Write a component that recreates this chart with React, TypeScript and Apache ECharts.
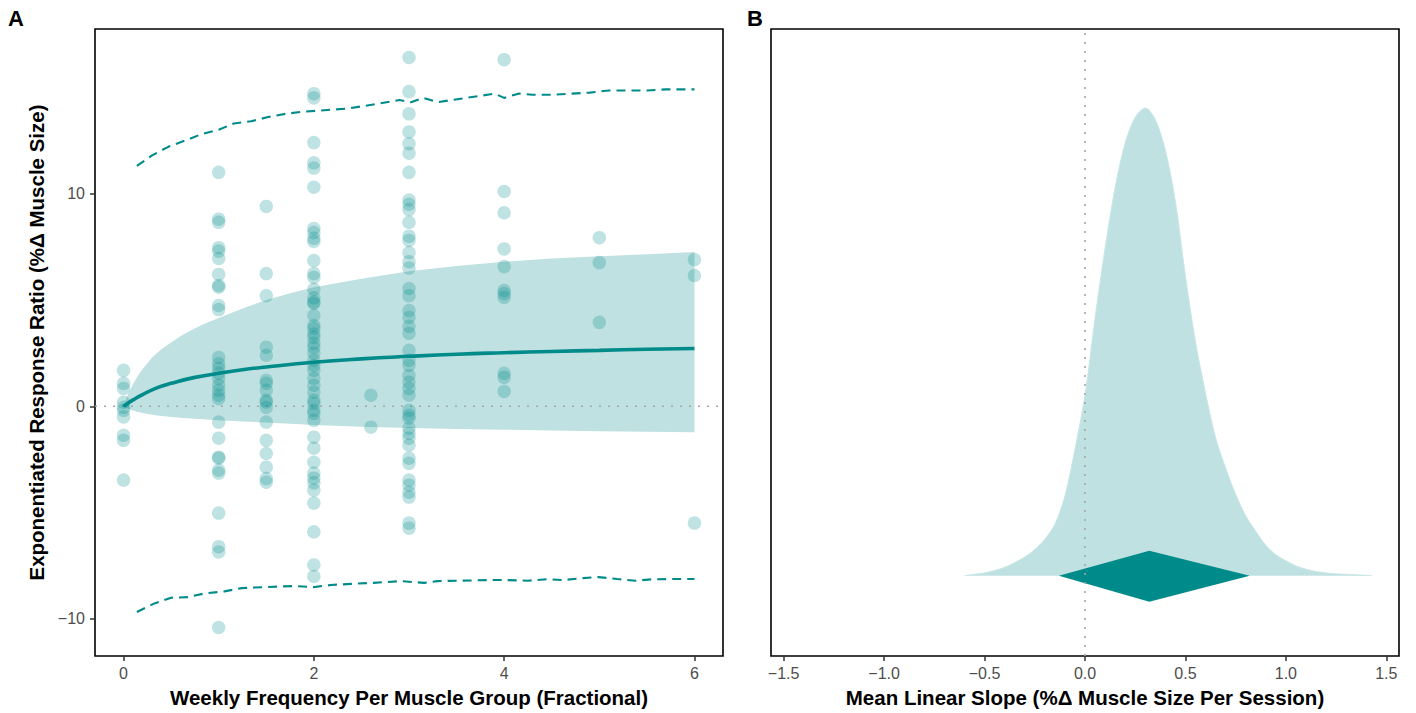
import React, { useEffect, useRef } from 'react';
import * as echarts from 'echarts';

const TEAL = '#008b8b';
const RIBBON = '#c0e1e1';
const FONT = '"Liberation Sans", Arial, Helvetica, sans-serif';

// ---------- Panel A data ----------
const col0 = [1.69, 1.08, 0.84, 0.19, -0.05, -0.19, -0.5, -1.36, -1.6, -3.47];
const col1 = [11.0, 8.8, 8.65, 7.46, 7.3, 6.95, 6.2, 5.68, 5.6, 4.74, 4.55, 2.3, 2.0, 1.78, 1.55, 1.31, 0.99, 0.75, 0.52, 0.36, -0.74, -1.5, -2.39, -2.44, -3.0, -3.14, -5.02, -6.6, -6.85, -10.4];
const col15 = [9.4, 6.24, 5.2, 2.78, 2.4, 1.22, 1.08, 0.75, 0.28, 0.2, -0.05, -0.74, -1.6, -2.22, -2.86, -3.4, -3.57];
const col2 = [14.7, 14.5, 12.4, 11.45, 11.2, 10.3, 8.36, 8.17, 7.9, 7.75, 6.85, 6.24, 6.06, 5.5, 5.1, 4.9, 4.84, 4.27, 3.8, 3.66, 3.4, 3.24, 2.96, 2.77, 2.5, 2.16, 1.92, 1.69, 1.31, 0.99, 0.66, 0.28, 0.14, -0.19, -0.33, -0.66, -1.45, -1.97, -2.63, -3.14, -3.38, -3.6, -3.94, -4.55, -5.9, -7.46, -8.0];
const col26 = [0.52, -0.98];
const col3 = [16.4, 14.8, 13.75, 12.9, 12.35, 11.9, 11.0, 9.7, 9.5, 9.25, 8.65, 8.0, 7.8, 7.23, 6.8, 6.5, 5.54, 5.2, 4.5, 4.18, 3.76, 3.43, 2.63, 2.16, 1.92, 1.45, 1.13, 0.84, 0.52, -0.19, -0.42, -0.56, -1.03, -1.27, -1.5, -1.83, -2.44, -2.68, -3.47, -3.71, -4.04, -4.27, -5.49, -5.73];
const col4 = [16.3, 10.1, 9.1, 7.4, 6.57, 5.45, 5.3, 5.12, 1.55, 1.36, 0.7];
const col5 = [7.93, 6.76, 3.95];
const col6 = [6.9, 6.15, -5.49];
const columns: [number, number[]][] = [
  [0, col0], [1, col1], [1.5, col15], [2, col2], [2.6, col26], [3, col3], [4, col4], [5, col5], [6, col6],
];

const fitX = [0, 0.05, 0.1, 0.2, 0.35, 0.5, 0.75, 1, 1.25, 1.5, 2, 2.5, 3, 3.5, 4, 4.5, 5, 5.5, 6];
const fitY = [0, 0.16, 0.3, 0.55, 0.87, 1.08, 1.36, 1.55, 1.72, 1.85, 2.07, 2.23, 2.35, 2.45, 2.52, 2.58, 2.63, 2.68, 2.72];

const ribbonX = [0, 0.025, 0.05, 0.1, 0.15, 0.2, 0.3, 0.4, 0.5, 0.6, 0.7, 0.8, 0.9, 1.0, 1.25, 1.5, 1.75, 2.0, 2.5, 3.0, 3.5, 4.0, 4.5, 5.0, 5.5, 6.0];
const ribbonUpper = [0, 0.32, 0.6, 1.05, 1.42, 1.75, 2.3, 2.7, 3.0, 3.3, 3.55, 3.78, 3.97, 4.15, 4.6, 5.0, 5.32, 5.6, 6.0, 6.35, 6.6, 6.8, 6.95, 7.05, 7.15, 7.25];
const ribbonLower = [0, -0.06, -0.12, -0.2, -0.27, -0.32, -0.4, -0.45, -0.5, -0.54, -0.57, -0.6, -0.63, -0.65, -0.71, -0.76, -0.82, -0.88, -0.96, -1.02, -1.07, -1.1, -1.14, -1.17, -1.2, -1.22];

const piUpX = [0.14, 0.3, 0.47, 0.65, 0.82, 1.0, 1.16, 1.34, 1.52, 1.7, 1.88, 2.05, 2.2, 2.35, 2.5, 2.7, 2.9, 3.02, 3.15, 3.3, 3.45, 3.6, 3.75, 3.9, 4.0, 4.15, 4.3, 4.5, 4.7, 4.9, 5.1, 5.3, 5.5, 5.7, 5.85, 6.0];
const piUpY = [11.3, 11.8, 12.2, 12.5, 12.8, 13.0, 13.3, 13.4, 13.6, 13.75, 13.85, 13.9, 13.95, 14.0, 14.1, 14.25, 14.4, 14.3, 14.5, 14.3, 14.4, 14.5, 14.6, 14.7, 14.5, 14.7, 14.65, 14.65, 14.7, 14.75, 14.85, 14.85, 14.85, 14.9, 14.9, 14.9];
const piLoX = [0.14, 0.31, 0.5, 0.68, 0.85, 1.06, 1.24, 1.48, 1.79, 2.0, 2.18, 2.39, 2.63, 2.91, 3.16, 3.3, 3.51, 3.86, 4.03, 4.25, 4.45, 4.62, 4.83, 4.99, 5.19, 5.38, 5.57, 5.78, 6.0];
const piLoY = [-9.67, -9.3, -9.0, -8.97, -8.8, -8.7, -8.55, -8.5, -8.45, -8.5, -8.4, -8.35, -8.3, -8.22, -8.3, -8.22, -8.2, -8.17, -8.17, -8.2, -8.13, -8.17, -8.08, -8.03, -8.12, -8.2, -8.13, -8.12, -8.12];

const xTicksA = [0, 2, 4, 6];
const yTicksA = [-10, 0, 10];

// ---------- Panel B data ----------
const densX = [-0.6, -0.55, -0.5, -0.45, -0.4, -0.35, -0.3, -0.25, -0.2, -0.15, -0.1, -0.05, 0, 0.05, 0.1, 0.15, 0.2, 0.25, 0.3, 0.35, 0.4, 0.45, 0.5, 0.55, 0.6, 0.65, 0.7, 0.75, 0.8, 0.85, 0.9, 0.95, 1.0, 1.05, 1.1, 1.15, 1.2, 1.25, 1.3, 1.35, 1.43];
const densY = [0, 0.003, 0.006, 0.011, 0.018, 0.028, 0.04, 0.056, 0.078, 0.11, 0.17, 0.27, 0.386, 0.55, 0.7, 0.83, 0.925, 0.98, 1.0, 0.975, 0.91, 0.8, 0.64, 0.5, 0.39, 0.295, 0.23, 0.174, 0.128, 0.095, 0.065, 0.045, 0.032, 0.021, 0.014, 0.009, 0.006, 0.004, 0.003, 0.002, 0];
const slopeEstimate = 0.32;
const slopeLower = -0.13;
const slopeUpper = 0.82;
const xTicksB = [-1.5, -1.0, -0.5, 0.0, 0.5, 1.0, 1.5];

const minus = (s: string) => s.replace('-', '\u2212');

function buildOption() {
  const points: number[][] = [];
  columns.forEach(([x, ys]) => ys.forEach((y) => points.push([x, y])));

  const axisTickStyle = { show: true, length: 5, inside: false, lineStyle: { color: '#333', width: 1.5 } };
  const labelStyle = { color: '#4d4d4d', fontSize: 16, fontFamily: FONT };
  const nameStyle = { color: '#000', fontSize: 20.5, fontWeight: 'bold' as const, fontFamily: FONT };
  const hiddenLine = { show: false, onZero: false };

  return {
    animation: false,
    backgroundColor: '#fff',
    textStyle: { fontFamily: FONT },
    graphic: [
      { type: 'text', x: 16, y: 18, style: { text: 'A', fontSize: 22, fontWeight: 'bold', fontFamily: FONT, fill: '#000', align: 'center', verticalAlign: 'middle' } },
      { type: 'text', x: 755, y: 18, style: { text: 'B', fontSize: 22, fontWeight: 'bold', fontFamily: FONT, fill: '#000', align: 'center', verticalAlign: 'middle' } },
    ],
    grid: [
      { left: 95, top: 29, width: 628, height: 627, show: true, borderColor: '#000', borderWidth: 1.6, backgroundColor: 'transparent' },
      { left: 771, top: 29, width: 628, height: 627, show: true, borderColor: '#000', borderWidth: 1.6, backgroundColor: 'transparent' },
    ],
    xAxis: [
      {
        type: 'value', gridIndex: 0, min: -0.3, max: 6.3,
        axisLine: hiddenLine, splitLine: { show: false },
        axisTick: { ...axisTickStyle, customValues: xTicksA },
        axisLabel: { ...labelStyle, margin: 9, customValues: xTicksA, formatter: (v: number) => minus(String(v)) },
        name: 'Weekly Frequency Per Muscle Group (Fractional)', nameLocation: 'middle', nameGap: 31, nameTextStyle: nameStyle,
      },
      {
        type: 'value', gridIndex: 1, min: -1.563, max: 1.563,
        axisLine: hiddenLine, splitLine: { show: false },
        axisTick: { ...axisTickStyle, customValues: xTicksB },
        axisLabel: { ...labelStyle, margin: 9, customValues: xTicksB, formatter: (v: number) => minus(v.toFixed(1)) },
        name: 'Mean Linear Slope (%\u0394 Muscle Size Per Session)', nameLocation: 'middle', nameGap: 31, nameTextStyle: nameStyle,
      },
    ],
    yAxis: [
      {
        type: 'value', gridIndex: 0, min: -11.74, max: 17.74,
        axisLine: hiddenLine, splitLine: { show: false },
        axisTick: { ...axisTickStyle, customValues: yTicksA },
        axisLabel: { ...labelStyle, margin: 10, customValues: yTicksA, formatter: (v: number) => minus(String(v)) },
        name: 'Exponentiated Response Ratio (%\u0394 Muscle Size)', nameLocation: 'middle', nameGap: 48, nameTextStyle: nameStyle,
      },
      {
        type: 'value', gridIndex: 1, min: -0.1716, max: 1.1688,
        axisLine: hiddenLine, splitLine: { show: false }, axisTick: { show: false }, axisLabel: { show: false },
      },
    ],
    series: [
      {
        type: 'custom', xAxisIndex: 0, yAxisIndex: 0, silent: true, z: 1,
        data: ribbonX.map((x, i) => [x, ribbonLower[i], ribbonUpper[i]]),
        encode: { x: 0, y: [1, 2] },
        renderItem: (params: any, api: any) => {
          if (params.dataIndex !== 0) return null;
          const up = ribbonX.map((x, i) => api.coord([x, ribbonUpper[i]]));
          const lo = ribbonX.map((x, i) => api.coord([x, ribbonLower[i]])).reverse();
          return { type: 'polygon', shape: { points: up.concat(lo) }, style: { fill: RIBBON } };
        },
      },
      {
        type: 'line', xAxisIndex: 0, yAxisIndex: 0, silent: true, z: 2, symbol: 'none',
        data: [[-0.3, 0], [6.3, 0]],
        lineStyle: { color: '#a6a6a6', width: 1.6, type: [2, 7] },
      },
      {
        type: 'scatter', xAxisIndex: 0, yAxisIndex: 0, silent: true, z: 3,
        data: points, symbolSize: 13.5,
        itemStyle: { color: TEAL, opacity: 0.25 },
      },
      {
        type: 'line', xAxisIndex: 0, yAxisIndex: 0, silent: true, z: 4, symbol: 'none', smooth: true,
        data: fitX.map((x, i) => [x, fitY[i]]),
        lineStyle: { color: TEAL, width: 3.6 },
      },
      {
        type: 'line', xAxisIndex: 0, yAxisIndex: 0, silent: true, z: 4, symbol: 'none',
        data: piUpX.map((x, i) => [x, piUpY[i]]),
        lineStyle: { color: TEAL, width: 2.1, type: [9, 6] },
      },
      {
        type: 'line', xAxisIndex: 0, yAxisIndex: 0, silent: true, z: 4, symbol: 'none',
        data: piLoX.map((x, i) => [x, piLoY[i]]),
        lineStyle: { color: TEAL, width: 2.1, type: [9, 6] },
      },
      // Panel B
      {
        type: 'line', xAxisIndex: 1, yAxisIndex: 1, silent: true, z: 1, symbol: 'none',
        smooth: 0.3,
        data: densX.map((x, i) => [x, densY[i]]),
        lineStyle: { color: '#c9e6e6', width: 1 },
        areaStyle: { color: RIBBON, opacity: 1 },
      },
      {
        type: 'custom', xAxisIndex: 1, yAxisIndex: 1, silent: true, z: 3,
        data: [[slopeEstimate, slopeLower, slopeUpper]],
        encode: { x: [0, 1, 2] },
        renderItem: (params: any, api: any) => {
          const c = api.coord([api.value(0), 0]);
          const l = api.coord([api.value(1), 0]);
          const r = api.coord([api.value(2), 0]);
          return {
            type: 'polygon',
            shape: { points: [l, [c[0], c[1] - 25], r, [c[0], c[1] + 26]] },
            style: { fill: TEAL },
          };
        },
      },
      {
        type: 'line', xAxisIndex: 1, yAxisIndex: 1, silent: true, z: 4, symbol: 'none',
        data: [[0, -0.1716], [0, 1.1688]],
        lineStyle: { color: '#a6a6a6', width: 1.6, type: [2, 7] },
      },
    ],
  };
}

export default function App() {
  const ref = useRef<HTMLDivElement>(null);
  useEffect(() => {
    if (!ref.current) return;
    const chart = echarts.init(ref.current, null, { renderer: 'svg' });
    chart.setOption(buildOption() as any);
    return () => chart.dispose();
  }, []);
  return (
    <div
      ref={ref}
      style={{ position: 'absolute', left: 0, top: 0, width: 1416, height: 713, background: '#fff' }}
    />
  );
}
